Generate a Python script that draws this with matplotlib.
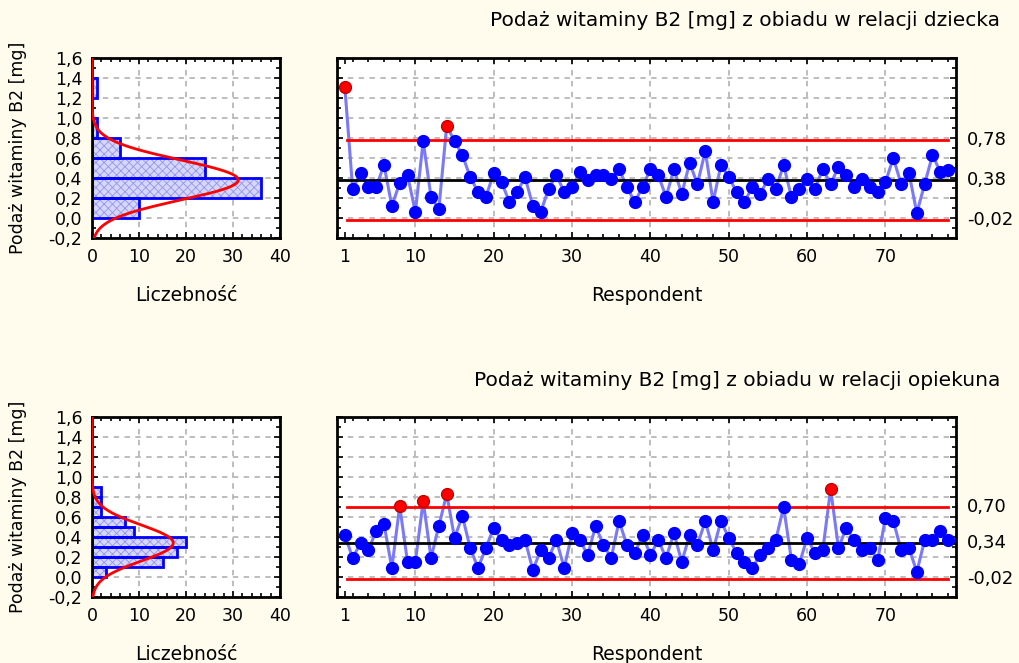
import numpy as np
import matplotlib
matplotlib.use('Agg')
import matplotlib.pyplot as plt
from matplotlib.ticker import MultipleLocator, FixedLocator, FuncFormatter

plt.rcParams['font.family'] = ['DejaVu Sans']
plt.rcParams['font.size'] = 12
plt.rcParams['hatch.linewidth'] = 0.6

BG = '#fffcee'

# --- data ---
respondent = np.arange(1, 79)

child_b2 = [1.31, 0.29, 0.45, 0.31, 0.31, 0.53, 0.12, 0.35, 0.43, 0.06,
            0.77, 0.21, 0.09, 0.92, 0.77, 0.63, 0.41, 0.26, 0.21, 0.45,
            0.36, 0.16, 0.26, 0.41, 0.12, 0.06, 0.29, 0.43, 0.26, 0.31,
            0.46, 0.38, 0.43, 0.43, 0.39, 0.49, 0.31, 0.16, 0.31, 0.49,
            0.43, 0.21, 0.49, 0.24, 0.55, 0.34, 0.67, 0.16, 0.53, 0.41,
            0.26, 0.16, 0.31, 0.24, 0.39, 0.29, 0.53, 0.21, 0.29, 0.39,
            0.29, 0.49, 0.34, 0.51, 0.43, 0.31, 0.39, 0.31, 0.26, 0.36,
            0.60, 0.34, 0.45, 0.05, 0.34, 0.63, 0.46, 0.48]

carer_b2 = [0.42, 0.19, 0.34, 0.27, 0.46, 0.53, 0.09, 0.71, 0.15, 0.15,
            0.76, 0.19, 0.51, 0.83, 0.39, 0.61, 0.29, 0.09, 0.29, 0.49,
            0.37, 0.32, 0.34, 0.37, 0.07, 0.27, 0.19, 0.37, 0.09, 0.44,
            0.37, 0.22, 0.51, 0.32, 0.19, 0.56, 0.32, 0.24, 0.42, 0.22,
            0.37, 0.19, 0.44, 0.15, 0.42, 0.32, 0.56, 0.27, 0.56, 0.39,
            0.24, 0.15, 0.09, 0.22, 0.29, 0.37, 0.70, 0.17, 0.13, 0.39,
            0.24, 0.27, 0.88, 0.29, 0.49, 0.37, 0.27, 0.29, 0.17, 0.59,
            0.56, 0.27, 0.29, 0.05, 0.37, 0.37, 0.46, 0.37]

# control limits (LCL, CL, UCL)
child_limits = [-0.02, 0.38, 0.78]
carer_limits = [-0.02, 0.34, 0.70]

# histograms: lower bin edges and counts
child_bins = [0.0, 0.2, 0.4, 0.6, 0.8, 1.0, 1.2]
child_counts = [10, 36, 24, 6, 1, 0, 1]
carer_bins = [0.0, 0.1, 0.2, 0.3, 0.4, 0.5, 0.6, 0.7, 0.8]
carer_counts = [3, 15, 18, 20, 9, 7, 2, 2, 2]

titles = ['Podaż witaminy B2 [mg] z obiadu w relacji dziecka',
          'Podaż witaminy B2 [mg] z obiadu w relacji opiekuna']


def comma(v, pos=None):
    if abs(v) < 1e-9:
        v = 0.0
    return f'{v:.1f}'.replace('.', ',')


def style(ax):
    ax.set_facecolor('white')
    ax.tick_params(which='both', direction='in', top=True, right=True,
                   length=4, width=1.2, color='black', labelsize=12.5)
    ax.tick_params(which='minor', length=3)
    ax.tick_params(which='major', pad=7)
    for s in ax.spines.values():
        s.set_linewidth(2)
    ax.grid(True, which='major', color='#b8b8b8', linestyle=(0, (3, 3)), linewidth=1.3)
    ax.set_axisbelow(True)


fig = plt.figure(figsize=(10.2, 6.63), dpi=100)
fig.patch.set_facecolor(BG)

rows = [
    (child_b2, child_limits, child_bins, child_counts, 0.2, 238, 20),
    (carer_b2, carer_limits, carer_bins, carer_counts, 0.1, 597, 381),
]

for k, (vals, lims, bins, counts, bw, bot_px, title_px) in enumerate(rows):
    bottom = 1 - bot_px / 663
    h = 180 / 663
    # --- histogram ---
    axh = fig.add_axes([92 / 1020, bottom, 188 / 1020, h])
    style(axh)
    axh.barh(bins, counts, height=bw, align='edge', color='#d6d6f7',
             edgecolor='#9494ee', hatch='xxxx', linewidth=0, zorder=2)
    axh.barh(bins, counts, height=bw, align='edge', fill=False,
             edgecolor='#0000ff', linewidth=2, zorder=2)
    lcl, cl, ucl = lims
    sd = (ucl - cl) / 2
    yy = np.linspace(-0.2, 1.6, 400)
    curve = len(vals) * bw * np.exp(-0.5 * ((yy - cl) / sd) ** 2) / (sd * np.sqrt(2 * np.pi))
    axh.plot(curve, yy, color='#ff0000', linewidth=2, zorder=3)
    axh.set_xlim(0, 40)
    axh.set_ylim(-0.2, 1.6)
    axh.xaxis.set_major_locator(MultipleLocator(10))
    axh.xaxis.set_minor_locator(MultipleLocator(2))
    axh.yaxis.set_major_locator(MultipleLocator(0.2))
    axh.yaxis.set_minor_locator(MultipleLocator(0.1))
    axh.yaxis.set_major_formatter(FuncFormatter(comma))
    axh.set_xlabel('Liczebność', fontsize=13.5)
    axh.xaxis.set_label_coords(0.5, -57 / 180, transform=axh.transAxes)
    axh.xaxis.label.set_va('center')
    axh.set_ylabel('Podaż witaminy B2 [mg]', fontsize=12.5)
    axh.yaxis.set_label_coords(-74 / 188, 0.5, transform=axh.transAxes)
    axh.yaxis.label.set_va('center')

    # --- control chart ---
    axc = fig.add_axes([337 / 1020, bottom, 619 / 1020, h])
    style(axc)
    axc.plot(respondent, vals, color='#7a7af6', linewidth=2.2, zorder=3)
    vals_a = np.array(vals)
    out = vals_a > ucl
    axc.plot(respondent[~out], vals_a[~out], 'o', color='#0000ff',
             markersize=8.5, zorder=4)
    axc.plot(respondent[out], vals_a[out], 'o', color='#ff0000',
             markeredgecolor='#c00000', markersize=8.5, zorder=4)
    axc.axhline(cl, color='black', linewidth=2, zorder=3)
    x0, x1 = 1.3, 78
    axc.plot([x0, x1], [ucl, ucl], color='#ff0000', linewidth=2, zorder=3)
    axc.plot([x0, x1], [lcl, lcl], color='#ff0000', linewidth=2, zorder=3)
    axc.set_xlim(0, 79)
    axc.set_ylim(-0.2, 1.6)
    axc.xaxis.set_major_locator(FixedLocator([1, 10, 20, 30, 40, 50, 60, 70]))
    axc.xaxis.set_minor_locator(MultipleLocator(2))
    axc.yaxis.set_major_locator(MultipleLocator(0.2))
    axc.yaxis.set_minor_locator(MultipleLocator(0.1))
    axc.yaxis.set_major_formatter(FuncFormatter(lambda v, p: ''))
    axc.xaxis.get_gridlines()[0].set_visible(False)
    axc.set_xlabel('Respondent', fontsize=13.5)
    axc.xaxis.set_label_coords(0.5, -57 / 180, transform=axc.transAxes)
    axc.xaxis.label.set_va('center')
    for v in lims:
        axc.text(1.018, v, f'{v:.2f}'.replace('.', ','), transform=axc.get_yaxis_transform(),
                 ha='left', va='center', fontsize=13)
    fig.text(1000 / 1020, 1 - title_px / 663, titles[k], ha='right', va='center',
             fontsize=14.5)

fig.savefig('out.png', dpi=100, facecolor=BG)
